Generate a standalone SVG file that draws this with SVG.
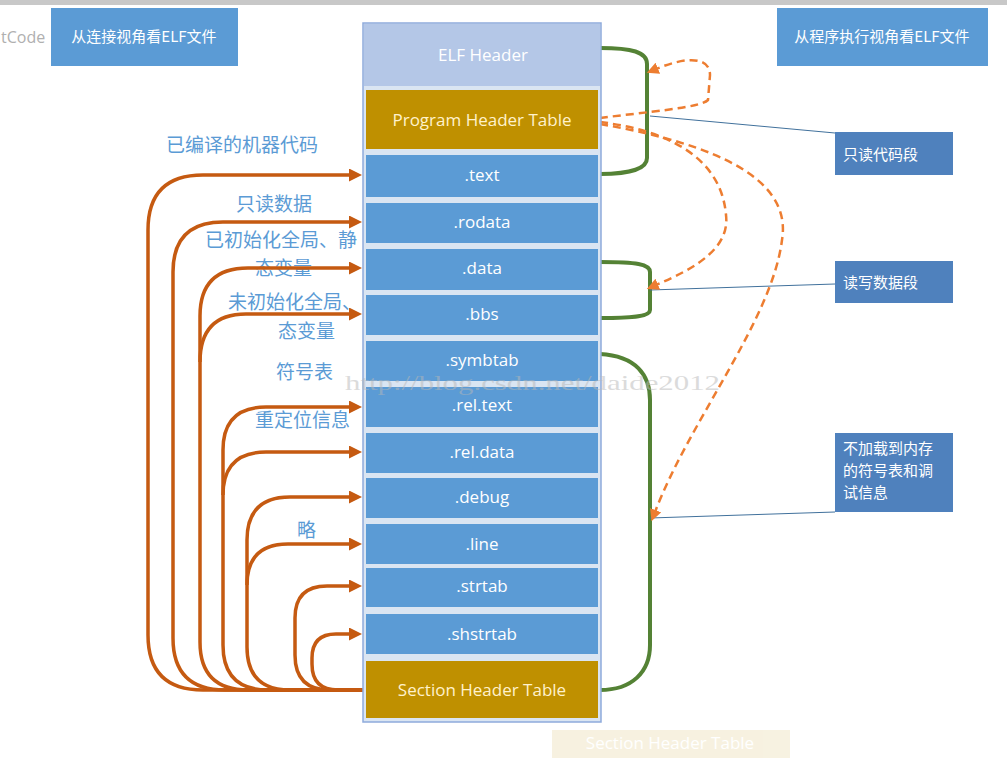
<svg xmlns="http://www.w3.org/2000/svg" width="1007" height="782" viewBox="0 0 1007 782">
<style>
.seg{fill:#5b9bd5}
.gold{fill:#bf9000}
.st{font-family:"Open Sans","Liberation Sans",sans-serif;font-size:17px;fill:#ffffff;text-anchor:middle}
.gt{font-family:"Open Sans","Liberation Sans",sans-serif;font-size:17px;fill:#fff2cc;text-anchor:middle}
.lbl{font-family:"Noto Sans CJK SC","Noto Sans",sans-serif;font-size:19px;fill:#5b9bd5}
.bx{font-family:"Noto Sans CJK SC","Noto Sans",sans-serif;font-size:15px;fill:#ffffff}
.oc{fill:none;stroke:#c55a11;stroke-width:3.5}
.od{fill:none;stroke:#ed7d31;stroke-width:2.5;stroke-dasharray:8 5}
.gr{fill:none;stroke:#548235;stroke-width:4}
.bl{stroke:#41719c;stroke-width:1}
</style>
<defs>
<marker id="ah" markerUnits="userSpaceOnUse" markerWidth="14" markerHeight="14" refX="1" refY="6.5" orient="auto">
<path d="M0,0 L13,6.5 L0,13 z" fill="#c55a11"/>
</marker>
<marker id="ad" markerUnits="userSpaceOnUse" markerWidth="14" markerHeight="14" refX="2" refY="6" orient="auto">
<path d="M0,0 L12,6 L0,12 z" fill="#ed7d31"/>
</marker>
</defs>
<rect width="1007" height="782" fill="#ffffff"/>
<rect width="1007" height="5" fill="#c8c8c8"/>
<text x="1" y="43" font-family="Open Sans,Liberation Sans,sans-serif" font-size="16" fill="#b0b0b0">tCode</text>
<g id="ghost" opacity="0.3">
<rect x="552" y="730" width="238" height="28" fill="#e6d49a"/>
<text x="670" y="749" class="st" font-size="15">Section Header Table</text>
</g>

<g id="title-left"><rect x="51" y="8" width="187" height="58" fill="#5b9bd5"/><text x="144" y="42" class="bx" font-size="16.5" text-anchor="middle">从连接视角看ELF文件</text></g>
<g id="title-right"><rect x="777" y="8" width="211" height="58" fill="#5b9bd5"/><text x="882" y="42" class="bx" font-size="16" text-anchor="middle">从程序执行视角看ELF文件</text></g>

<g id="labels">
<text x="166" y="152" class="lbl">已编译的机器代码</text>
<text x="236" y="211" class="lbl">只读数据</text>
<text x="205" y="247" class="lbl">已初始化全局、静</text>
<text x="255" y="275" class="lbl">态变量</text>
<text x="228" y="309" class="lbl">未初始化全局、</text>
<text x="278" y="338" class="lbl">态变量</text>
<text x="276" y="379" class="lbl">符号表</text>
<text x="255" y="427" class="lbl">重定位信息</text>
<text x="297" y="537" class="lbl">略</text>
</g>

<g id="connectors">
<path class="oc" marker-end="url(#ah)" d="M363,690 H203 Q148,690 148,635 V230 Q148,175 203,175 H350"/>
<path class="oc" marker-end="url(#ah)" d="M363,690 H225 Q173,690 173,638 V272 Q173,222 223,222 H350"/>
<path class="oc" marker-end="url(#ah)" d="M363,690 H248 Q200,690 200,642 V316 Q200,268 248,268 H350"/>
<path class="oc" marker-end="url(#ah)" d="M200,362 Q200,314 246,314 H350"/>
<path class="oc" marker-end="url(#ah)" d="M363,690 H268 Q223,690 223,645 V450 Q223,407 266,407 H350"/>
<path class="oc" marker-end="url(#ah)" d="M223,495 Q223,452 266,452 H350"/>
<path class="oc" marker-end="url(#ah)" d="M363,690 H290 Q247,690 247,647 V540 Q247,497 290,497 H350"/>
<path class="oc" marker-end="url(#ah)" d="M247,585 Q247,544 288,544 H350"/>
<path class="oc" marker-end="url(#ah)" d="M363,690 H330 Q295,690 295,655 V618 Q295,586 327,586 H350"/>
<path class="oc" marker-end="url(#ah)" d="M363,690 H338 Q312,690 312,664 V658 Q312,634 336,634 H350"/>

<path class="gr" d="M600,48 C632,48 647,52 647,64 L647,158 C647,168 632,174 600,174"/>
<path class="gr" d="M600,262 C636,262 650,264 650,272 L650,310 C650,316 636,318 600,318"/>
<path class="gr" d="M600,354 C636,356 650,375 650,400 L650,645 C650,672 632,690 600,690"/>

<line class="bl" x1="650" y1="116" x2="835" y2="133"/>
<line class="bl" x1="650" y1="290" x2="835" y2="284"/>
<line class="bl" x1="650" y1="518" x2="835" y2="512"/>

<path class="od" marker-end="url(#ad)" d="M600,118 C645,112 700,108 708,100 L710,75 C710,58 690,55 656,69"/>
<path class="od" marker-end="url(#ad)" d="M600,122 C680,132 722,165 726,215 C730,248 696,268 656,285"/>
<path class="od" marker-end="url(#ad)" d="M600,124 C720,145 792,180 782,240 C772,320 690,420 655,512"/>
</g>

<g id="column">
<rect x="363" y="23" width="238" height="699" fill="#dae5f2" stroke="#8eaadb" stroke-width="1.5"/>
<g id="n-elf"><rect x="364" y="24" width="236" height="62" fill="#b4c7e7"/><text x="483" y="61" class="st">ELF Header</text></g>
<g id="n-pht"><rect x="366" y="90" width="232" height="59" class="gold"/><text x="482" y="126" class="gt">Program Header Table</text></g>
<g id="n-text"><rect x="366" y="155" width="232" height="42" class="seg"/><text x="482" y="181" class="st">.text</text></g>
<g id="n-rodata"><rect x="366" y="203" width="232" height="40" class="seg"/><text x="482" y="228" class="st">.rodata</text></g>
<g id="n-data"><rect x="366" y="249" width="232" height="41" class="seg"/><text x="482" y="274" class="st">.data</text></g>
<g id="n-bbs"><rect x="366" y="295" width="232" height="40" class="seg"/><text x="482" y="320" class="st">.bbs</text></g>
<g id="n-symbtab"><rect x="366" y="341" width="232" height="40" class="seg"/><text x="482" y="366" class="st">.symbtab</text></g>
<g id="n-reltext"><rect x="366" y="387" width="232" height="40" class="seg"/><text x="482" y="411" class="st">.rel.text</text></g>
<g id="n-reldata"><rect x="366" y="433" width="232" height="40" class="seg"/><text x="482" y="458" class="st">.rel.data</text></g>
<g id="n-debug"><rect x="366" y="478" width="232" height="40" class="seg"/><text x="482" y="503" class="st">.debug</text></g>
<g id="n-line"><rect x="366" y="524" width="232" height="40" class="seg"/><text x="482" y="550" class="st">.line</text></g>
<g id="n-strtab"><rect x="366" y="568" width="232" height="39" class="seg"/><text x="482" y="592" class="st">.strtab</text></g>
<g id="n-shstrtab"><rect x="366" y="614" width="232" height="40" class="seg"/><text x="482" y="640" class="st">.shstrtab</text></g>
<g id="n-sht"><rect x="366" y="661" width="232" height="57" class="gold"/><text x="482" y="696" class="gt">Section Header Table</text></g>
</g>

<g id="box-ro"><rect x="835" y="132" width="118" height="43" fill="#4f81bd"/><text x="843" y="160" class="bx">只读代码段</text></g>
<g id="box-rw"><rect x="835" y="261" width="118" height="42" fill="#4f81bd"/><text x="843" y="288" class="bx">读写数据段</text></g>
<g id="box-dbg"><rect x="835" y="433" width="118" height="79" fill="#4f81bd"/>
<text x="843" y="454" class="bx">不加载到内存</text>
<text x="843" y="476" class="bx">的符号表和调</text>
<text x="843" y="498" class="bx">试信息</text></g>

<text x="345" y="390" font-family="Liberation Serif,serif" font-size="22" fill="#b8b8b8" opacity="0.5" textLength="375" lengthAdjust="spacingAndGlyphs">http://blog.csdn.net/daide2012</text>
</svg>
